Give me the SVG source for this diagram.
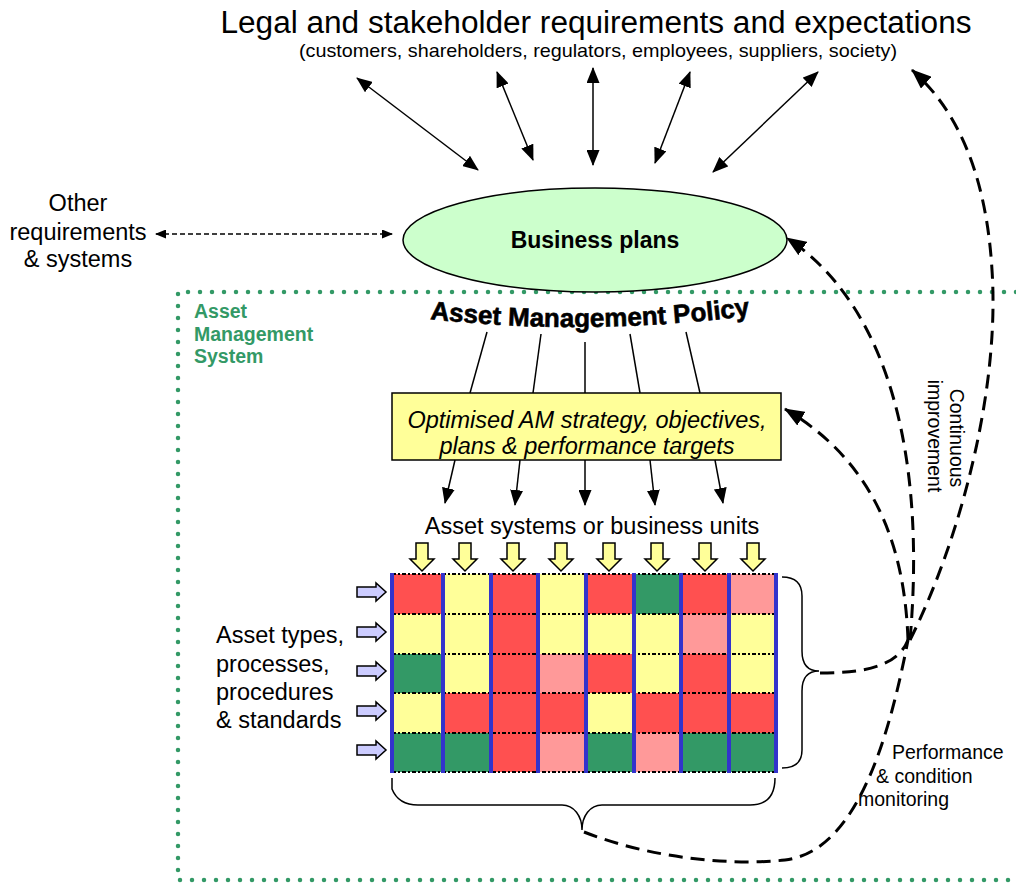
<svg xmlns="http://www.w3.org/2000/svg" width="1016" height="884" viewBox="0 0 1016 884">
<style>
  text { font-family: "Liberation Sans", Arial, sans-serif; fill: #000; }
  .t24 { font-size: 23.5px; }
  .small { font-size: 19.5px; }
  .solid { fill: none; stroke: #000; stroke-width: 1.5; }
  .dash { fill: none; stroke: #000; stroke-width: 3; stroke-dasharray: 14 8; }
  .thin-dash { fill: none; stroke: #000; stroke-width: 1.5; stroke-dasharray: 5 3; }
  .blue { stroke: #3333CC; stroke-width: 4; }
  .rowline { stroke: #000; stroke-width: 2; stroke-dasharray: 4 2 2 2; }
  .red { fill: #FF5050; }
  .yel { fill: #FFFF99; }
  .grn { fill: #339966; }
  .pnk { fill: #FF9999; }
  .yarrow { fill: #FFFF99; stroke: #000; stroke-width: 1.5; }
  .parrow { fill: #CCCCFF; stroke: #000; stroke-width: 1.5; }
  .ams { font-size: 19.5px; font-weight: bold; fill: #339966; }
</style>
<defs>
  <marker id="ah" viewBox="0 0 16 13" refX="15" refY="6.5" markerWidth="16" markerHeight="13" markerUnits="userSpaceOnUse" orient="auto-start-reverse">
    <path d="M0,0 L16,6.5 L0,13 z" fill="#000"/>
  </marker>
  <marker id="ahs" viewBox="0 0 11 9" refX="10" refY="4.5" markerWidth="11" markerHeight="9" markerUnits="userSpaceOnUse" orient="auto-start-reverse">
    <path d="M0,0 L11,4.5 L0,9 z" fill="#000"/>
  </marker>
  <marker id="ahd" viewBox="0 0 20 16" refX="19" refY="8" markerWidth="20" markerHeight="16" markerUnits="userSpaceOnUse" orient="auto">
    <path d="M0,0 L20,8 L0,16 z" fill="#000"/>
  </marker>
  <path id="polPath" d="M420,318 Q590,338 760,314"/>
</defs>

<rect width="1016" height="884" fill="#fff"/>

<g id="ams-boundary">
  <path d="M1016,292 H178 V880 H1016" fill="none" stroke="#339966" stroke-width="4.5" stroke-dasharray="0 12" stroke-linecap="round"/>
</g>

<g id="title">
  <text x="596" y="33" font-size="31" text-anchor="middle" textLength="751" lengthAdjust="spacingAndGlyphs">Legal and stakeholder requirements and expectations</text>
  <text x="598" y="57" font-size="19" text-anchor="middle" textLength="598" lengthAdjust="spacingAndGlyphs">(customers, shareholders, regulators, employees, suppliers, society)</text>
</g>

<g id="business-plans">
  <ellipse cx="595" cy="240" rx="192" ry="52" fill="#CCFFCC" stroke="#000" stroke-width="1.5"/>
  <text x="595" y="248" font-size="23" font-weight="bold" text-anchor="middle">Business plans</text>
</g>

<g id="other-requirements">
  <text class="t24" x="78" y="211" text-anchor="middle">Other</text>
  <text class="t24" x="78" y="240" text-anchor="middle">requirements</text>
  <text class="t24" x="78" y="267" text-anchor="middle">&amp; systems</text>
</g>

<g id="ams-label">
  <text class="ams" x="194" y="318">Asset</text>
  <text class="ams" x="194" y="341">Management</text>
  <text class="ams" x="194" y="363">System</text>
</g>

<g id="am-policy">
  <text font-size="26" font-weight="bold" stroke="#000" stroke-width="0.6"><textPath href="#polPath" startOffset="50%" text-anchor="middle">Asset Management Policy</textPath></text>
</g>

<g id="strategy">
  <rect x="392" y="393" width="389" height="67" fill="#FFFF99" stroke="#000" stroke-width="1.5"/>
  <text class="t24" x="587" y="428" font-style="italic" text-anchor="middle">Optimised AM strategy, objectives,</text>
  <text class="t24" x="587" y="454" font-style="italic" text-anchor="middle">plans &amp; performance targets</text>
</g>

<g id="asset-systems-label">
  <text class="t24" x="592" y="534" text-anchor="middle">Asset systems or business units</text>
</g>

<g id="system-arrows">
  <path class="yarrow" d="M416,543 H428 V559 H434 L422,571 L410,559 H416 Z"/>
  <path class="yarrow" d="M459,543 H471 V559 H477 L465,571 L453,559 H459 Z"/>
  <path class="yarrow" d="M507,543 H519 V559 H525 L513,571 L501,559 H507 Z"/>
  <path class="yarrow" d="M555,543 H567 V559 H573 L561,571 L549,559 H555 Z"/>
  <path class="yarrow" d="M603,543 H615 V559 H621 L609,571 L597,559 H603 Z"/>
  <path class="yarrow" d="M651,543 H663 V559 H669 L657,571 L645,559 H651 Z"/>
  <path class="yarrow" d="M699,543 H711 V559 H717 L705,571 L693,559 H699 Z"/>
  <path class="yarrow" d="M747,543 H759 V559 H765 L753,571 L741,559 H747 Z"/>
</g>

<g id="grid">
  <rect class="red" x="392" y="574" width="51" height="40"/>
  <rect class="yel" x="443" y="574" width="48" height="40"/>
  <rect class="red" x="491" y="574" width="47" height="40"/>
  <rect class="yel" x="538" y="574" width="48" height="40"/>
  <rect class="red" x="586" y="574" width="48" height="40"/>
  <rect class="grn" x="634" y="574" width="47" height="40"/>
  <rect class="red" x="681" y="574" width="48" height="40"/>
  <rect class="pnk" x="729" y="574" width="47" height="40"/>
  <rect class="yel" x="392" y="614" width="51" height="40"/>
  <rect class="yel" x="443" y="614" width="48" height="40"/>
  <rect class="red" x="491" y="614" width="47" height="40"/>
  <rect class="yel" x="538" y="614" width="48" height="40"/>
  <rect class="yel" x="586" y="614" width="48" height="40"/>
  <rect class="yel" x="634" y="614" width="47" height="40"/>
  <rect class="pnk" x="681" y="614" width="48" height="40"/>
  <rect class="yel" x="729" y="614" width="47" height="40"/>
  <rect class="grn" x="392" y="654" width="51" height="39"/>
  <rect class="yel" x="443" y="654" width="48" height="39"/>
  <rect class="red" x="491" y="654" width="47" height="39"/>
  <rect class="pnk" x="538" y="654" width="48" height="39"/>
  <rect class="red" x="586" y="654" width="48" height="39"/>
  <rect class="yel" x="634" y="654" width="47" height="39"/>
  <rect class="red" x="681" y="654" width="48" height="39"/>
  <rect class="yel" x="729" y="654" width="47" height="39"/>
  <rect class="yel" x="392" y="693" width="51" height="40"/>
  <rect class="red" x="443" y="693" width="48" height="40"/>
  <rect class="red" x="491" y="693" width="47" height="40"/>
  <rect class="red" x="538" y="693" width="48" height="40"/>
  <rect class="yel" x="586" y="693" width="48" height="40"/>
  <rect class="red" x="634" y="693" width="47" height="40"/>
  <rect class="red" x="681" y="693" width="48" height="40"/>
  <rect class="red" x="729" y="693" width="47" height="40"/>
  <rect class="grn" x="392" y="733" width="51" height="39"/>
  <rect class="grn" x="443" y="733" width="48" height="39"/>
  <rect class="red" x="491" y="733" width="47" height="39"/>
  <rect class="pnk" x="538" y="733" width="48" height="39"/>
  <rect class="grn" x="586" y="733" width="48" height="39"/>
  <rect class="pnk" x="634" y="733" width="47" height="39"/>
  <rect class="grn" x="681" y="733" width="48" height="39"/>
  <rect class="grn" x="729" y="733" width="47" height="39"/>
  <line class="rowline" x1="392" y1="574" x2="776" y2="574"/>
  <line class="rowline" x1="392" y1="614" x2="776" y2="614"/>
  <line class="rowline" x1="392" y1="654" x2="776" y2="654"/>
  <line class="rowline" x1="392" y1="693" x2="776" y2="693"/>
  <line class="rowline" x1="392" y1="733" x2="776" y2="733"/>
  <line class="rowline" x1="392" y1="772" x2="776" y2="772"/>
  <line class="blue" x1="392" y1="573" x2="392" y2="773"/>
  <line class="blue" x1="443" y1="573" x2="443" y2="773"/>
  <line class="blue" x1="491" y1="573" x2="491" y2="773"/>
  <line class="blue" x1="538" y1="573" x2="538" y2="773"/>
  <line class="blue" x1="586" y1="573" x2="586" y2="773"/>
  <line class="blue" x1="634" y1="573" x2="634" y2="773"/>
  <line class="blue" x1="681" y1="573" x2="681" y2="773"/>
  <line class="blue" x1="729" y1="573" x2="729" y2="773"/>
  <line class="blue" x1="776" y1="573" x2="776" y2="773"/>
</g>

<g id="type-arrows">
  <path class="parrow" d="M357,587 H376 V583 L386,592 L376,601 V597 H357 Z"/>
  <path class="parrow" d="M357,627 H376 V623 L386,632 L376,641 V637 H357 Z"/>
  <path class="parrow" d="M357,666 H376 V662 L386,671 L376,680 V676 H357 Z"/>
  <path class="parrow" d="M357,706 H376 V702 L386,711 L376,720 V716 H357 Z"/>
  <path class="parrow" d="M357,745 H376 V741 L386,750 L376,759 V755 H357 Z"/>
</g>

<g id="asset-types-label">
  <text class="t24" x="216" y="643">Asset types,</text>
  <text class="t24" x="216" y="672">processes,</text>
  <text class="t24" x="216" y="700">procedures</text>
  <text class="t24" x="216" y="728">&amp; standards</text>
</g>

<g id="braces">
  <path class="solid" d="M782,577 C796,577 802,584 802,596 V651 C802,664 808,671 819,671 C808,671 802,678 802,691 V750 C802,762 796,768 782,768"/>
  <path class="solid" d="M392,778 V789 C396,799 404,805 418,805 H562 C574,805 582,816 582,830 C582,816 590,805 602,805 H750 C766,805 775,796 775,778"/>
</g>

<g id="ci-label">
  <text class="small" transform="translate(950,438) rotate(90)" text-anchor="middle">Continuous</text>
  <text class="small" transform="translate(928,436) rotate(90)" text-anchor="middle">improvement</text>
</g>

<g id="pcm-label">
  <text class="small" x="892" y="759">Performance</text>
  <text class="small" x="876" y="783">&amp; condition</text>
  <text class="small" x="858" y="806">monitoring</text>
</g>

<g id="connectors">
  <line class="solid" x1="357" y1="78" x2="478" y2="170" marker-start="url(#ah)" marker-end="url(#ah)"/>
  <line class="solid" x1="497" y1="72" x2="533" y2="160" marker-start="url(#ah)" marker-end="url(#ah)"/>
  <line class="solid" x1="593" y1="68" x2="593" y2="165" marker-start="url(#ah)" marker-end="url(#ah)"/>
  <line class="solid" x1="690" y1="72" x2="655" y2="163" marker-start="url(#ah)" marker-end="url(#ah)"/>
  <line class="solid" x1="818" y1="72" x2="713" y2="172" marker-start="url(#ah)" marker-end="url(#ah)"/>
  <line class="thin-dash" x1="156" y1="234" x2="392" y2="234" marker-start="url(#ahs)" marker-end="url(#ahs)"/>
  <line class="solid" x1="487" y1="332" x2="470" y2="393"/>
  <line class="solid" x1="541" y1="334" x2="533" y2="393"/>
  <line class="solid" x1="585" y1="342" x2="585" y2="393"/>
  <line class="solid" x1="630" y1="334" x2="640" y2="393"/>
  <line class="solid" x1="686" y1="332" x2="700" y2="393"/>
  <line class="solid" x1="455" y1="460" x2="445" y2="503" marker-end="url(#ah)"/>
  <line class="solid" x1="520" y1="460" x2="515" y2="505" marker-end="url(#ah)"/>
  <line class="solid" x1="585" y1="460" x2="585" y2="505" marker-end="url(#ah)"/>
  <line class="solid" x1="650" y1="460" x2="655" y2="505" marker-end="url(#ah)"/>
  <line class="solid" x1="715" y1="460" x2="723" y2="503" marker-end="url(#ah)"/>
  <path class="dash" d="M584,832 C650,858 730,866 785,860 C850,852 885,760 908,640"/>
  <path class="dash" d="M820,673 C860,673 897,668 908,640"/>
  <path class="dash" d="M908,640 C905,555 880,465 785,409" marker-end="url(#ahd)"/>
  <path class="dash" d="M910,640 C925,470 895,310 787,238" marker-end="url(#ahd)"/>
  <path class="dash" d="M910,640 C960,540 1000,390 992,270 C986,170 955,108 912,70" marker-end="url(#ahd)"/>
</g>
</svg>
